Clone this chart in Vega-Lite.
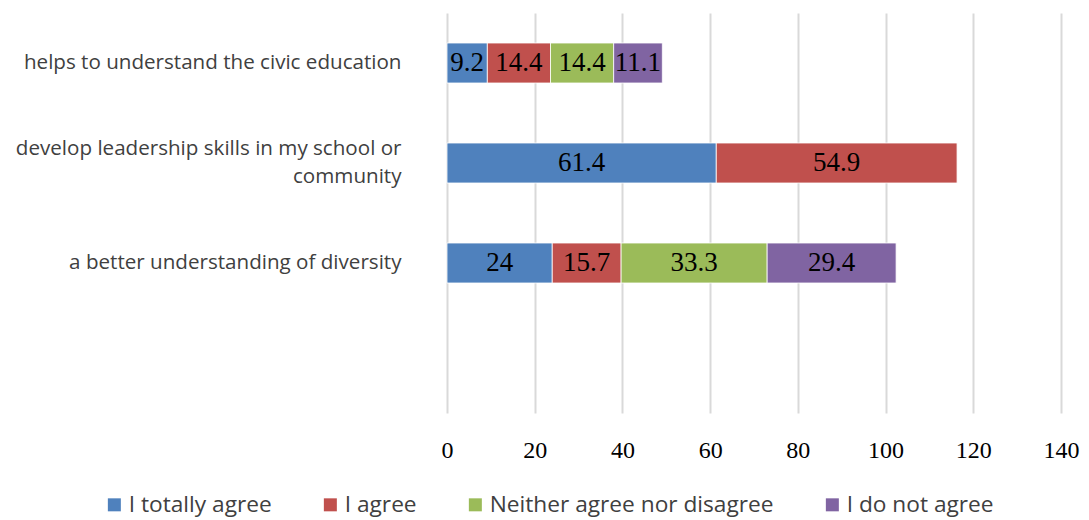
{
  "$schema": "https://vega.github.io/schema/vega-lite/v6.json",
  "width": 614,
  "height": 400,
  "autosize": {"type": "none"},
  "padding": {"left": 447, "top": 13, "right": 28, "bottom": 107},
  "background": "white",
  "config": {"view": {"stroke": null}},
  "data": {
    "values": [
      {"category": "helps to understand the civic education", "series": "I totally agree", "k": 1, "value": 9.2},
      {"category": "helps to understand the civic education", "series": "I agree", "k": 2, "value": 14.4},
      {"category": "helps to understand the civic education", "series": "Neither agree nor disagree", "k": 3, "value": 14.4},
      {"category": "helps to understand the civic education", "series": "I do not agree", "k": 4, "value": 11.1},
      {"category": "develop leadership skills in my school or community", "series": "I totally agree", "k": 1, "value": 61.4},
      {"category": "develop leadership skills in my school or community", "series": "I agree", "k": 2, "value": 54.9},
      {"category": "a better understanding of diversity", "series": "I totally agree", "k": 1, "value": 24},
      {"category": "a better understanding of diversity", "series": "I agree", "k": 2, "value": 15.7},
      {"category": "a better understanding of diversity", "series": "Neither agree nor disagree", "k": 3, "value": 33.3},
      {"category": "a better understanding of diversity", "series": "I do not agree", "k": 4, "value": 29.4}
    ]
  },
  "transform": [
    {"stack": "value", "groupby": ["category"], "sort": [{"field": "k", "order": "ascending"}], "as": ["v0", "v1"]}
  ],
  "layer": [
    {
      "mark": {"type": "bar", "stroke": "white", "strokeWidth": 0.8},
      "encoding": {
        "y": {
          "field": "category",
          "type": "nominal",
          "scale": {
            "domain": ["helps to understand the civic education", "develop leadership skills in my school or community", "a better understanding of diversity", " "],
            "paddingInner": 0.6,
            "paddingOuter": 0.3
          },
          "axis": {
            "title": null,
            "domain": false,
            "ticks": false,
            "grid": false,
            "labelFont": "Open Sans",
            "labelFontSize": 20.6,
            "labelColor": "#404040",
            "labelPadding": 46,
            "labelLineHeight": 28,
            "labelLimit": 500,
            "labelOffset": {"expr": "datum.value == 'develop leadership skills in my school or community' ? -14 : 0"},
            "labelExpr": "datum.value == 'develop leadership skills in my school or community' ? ['develop leadership skills in my school or', 'community'] : datum.value"
          }
        },
        "x": {
          "field": "v0",
          "type": "quantitative",
          "scale": {"domain": [0, 140], "nice": false},
          "axis": {
            "title": null,
            "values": [0, 20, 40, 60, 80, 100, 120, 140],
            "domain": false,
            "ticks": false,
            "grid": true,
            "gridColor": "#D9D9D9",
            "gridWidth": 2,
            "labelFont": "Liberation Serif",
            "labelFontSize": 24,
            "labelColor": "#000000",
            "labelPadding": 25,
            "labelFlush": false
          }
        },
        "x2": {"field": "v1"},
        "color": {
          "field": "series",
          "type": "nominal",
          "scale": {
            "domain": ["I totally agree", "I agree", "Neither agree nor disagree", "I do not agree"],
            "range": ["#4F81BD", "#C0504D", "#9BBB59", "#8064A2"]
          },
          "legend": {
            "orient": "none",
            "legendX": -344,
            "legendY": 480,
            "direction": "horizontal",
            "columns": 4,
            "title": null,
            "symbolType": "square",
            "symbolSize": 169,
            "symbolStrokeWidth": 0,
            "labelFont": "Open Sans",
            "labelFontSize": 22.7,
            "labelColor": "#404040",
            "labelOffset": 3,
            "columnPadding": 47,
            "labelLimit": 400
          }
        }
      }
    },
    {
      "transform": [
        {"fold": ["v0", "v1"], "as": ["edge", "pos"]}
      ],
      "mark": {"type": "text", "font": "Liberation Serif", "fontSize": 27, "color": "#000000", "baseline": "middle", "align": "center"},
      "encoding": {
        "y": {"field": "category", "type": "nominal"},
        "x": {"aggregate": "mean", "field": "pos", "type": "quantitative"},
        "detail": {"field": "series", "type": "nominal"},
        "text": {"field": "value", "type": "quantitative"}
      }
    }
  ]
}
